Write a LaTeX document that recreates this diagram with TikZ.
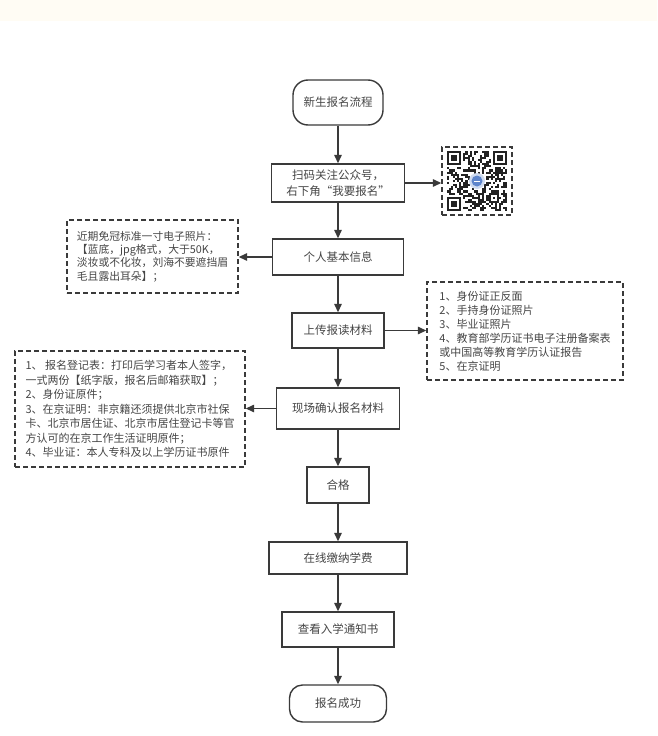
\documentclass[tikz,border=0pt]{standalone}
\usepackage{fontspec}
\setmainfont{Noto Sans CJK SC}
\usetikzlibrary{arrows.meta}
\definecolor{line}{HTML}{3A3A3A}
\definecolor{txt}{HTML}{454545}
\definecolor{cream}{HTML}{FFFCF4}
\definecolor{qrc}{HTML}{222222}
\definecolor{logo}{HTML}{5F86CC}
\tikzset{
  box/.style={draw=line, line width=1.4pt, fill=white, text=txt, inner sep=0pt,
    align=center, font=\fontsize{11.5}{16}\selectfont},
  notebox/.style={draw=line, line width=1.4pt, dash pattern=on 5pt off 3pt,
    text=txt, align=left, inner sep=0pt},
  arr/.style={draw=line, line width=1.4pt, -{Triangle[length=8.5pt,width=7.5pt]}},
}
\begin{document}
\begin{tikzpicture}[x=1pt,y=1pt]
\useasboundingbox (0,0) rectangle (657,-736);
\fill[cream] (0,0) rectangle (657,-21);

% main flow
\node[box, rounded corners=15pt, minimum width=90pt, minimum height=45pt] (start) at (338,-102.5) {新生报名流程};
\node[box, minimum width=133pt, minimum height=38pt] (scan) at (338,-183) {扫码关注公众号，\\右下角“我要报名”};
\node[box, minimum width=131pt, minimum height=36pt] (info) at (338,-257) {个人基本信息};
\node[box, minimum width=92pt, minimum height=35pt] (upload) at (338,-330.5) {上传报读材料};
\node[box, minimum width=123pt, minimum height=41pt] (onsite) at (338,-408.5) {现场确认报名材料};
\node[box, minimum width=62pt, minimum height=36pt] (pass) at (338,-485) {合格};
\node[box, minimum width=138pt, minimum height=32pt] (pay) at (338,-558) {在线缴纳学费};
\node[box, minimum width=112pt, minimum height=35pt] (view) at (338,-629.5) {查看入学通知书};
\node[box, rounded corners=13pt, minimum width=97pt, minimum height=37pt] (success) at (338,-703.5) {报名成功};

% notes
\node[notebox, minimum width=171pt, minimum height=73pt, font=\fontsize{10.8}{13.3}\selectfont] (note1) at (152.5,-256.5)
  {近期免冠标准一寸电子照片：\\【蓝底，jpg格式，大于50K，\\淡妆或不化妆，刘海不要遮挡眉\\毛且露出耳朵】；};
\node[notebox, minimum width=196pt, minimum height=98pt, font=\fontsize{11}{14}\selectfont] (note2) at (525,-331)
  {1、身份证正反面\\2、手持身份证照片\\3、毕业证照片\\4、教育部学历证书电子注册备案表\\或中国高等教育学历认证报告\\5、在京证明};
\node[notebox, minimum width=230pt, minimum height=116pt, font=\fontsize{11}{14.5}\selectfont] (note3) at (130,-409)
  {1、 报名登记表：打印后学习者本人签字，\\一式两份【纸字版，报名后邮箱获取】；\\2、身份证原件；\\3、在京证明：非京籍还须提供北京市社保\\卡、北京市居住证、北京市居住登记卡等官\\方认可的在京工作生活证明原件；\\4、毕业证：本人专科及以上学历证书原件};

% QR code
\node[notebox, minimum width=70pt, minimum height=68pt] (qr) at (477,-181) {};
\def\qm{2.1}
\def\qx{446.5}
\def\qy{-150.5}
\pgfmathsetseed{4242}
\foreach \i in {0,...,28}{
  \foreach \j in {0,...,28}{
    \pgfmathtruncatemacro{\skipit}{((\i<8)&&(\j<8))||((\i>20)&&(\j<8))||((\i<8)&&(\j>20))||((\i>10)&&(\i<18)&&(\j>10)&&(\j<18))}
    \pgfmathrandominteger{\rq}{0}{1}
    \ifnum\skipit=0 \ifnum\rq=1
      \fill[qrc] ({\qx+\i*\qm},{\qy-\j*\qm}) rectangle ++(\qm,-\qm);
    \fi\fi
  }
}
\foreach \fx/\fy in {0/0,22/0,0/22}{
  \fill[qrc] ({\qx+\fx*\qm},{\qy-\fy*\qm}) rectangle ++({7*\qm},{-7*\qm});
  \fill[white] ({\qx+(\fx+1)*\qm},{\qy-(\fy+1)*\qm}) rectangle ++({5*\qm},{-5*\qm});
  \fill[qrc] ({\qx+(\fx+2)*\qm},{\qy-(\fy+2)*\qm}) rectangle ++({3*\qm},{-3*\qm});
}
\fill[qrc] ({\qx+20*\qm},{\qy-20*\qm}) rectangle ++({5*\qm},{-5*\qm});
\fill[white] ({\qx+21*\qm},{\qy-21*\qm}) rectangle ++({3*\qm},{-3*\qm});
\fill[qrc] ({\qx+22*\qm},{\qy-22*\qm}) rectangle ++({\qm},{-\qm});
\fill[logo!30] (qr.center) circle (8pt);
\fill[logo] (qr.center) circle (5.5pt);
\draw[white, line width=0.8pt] ([xshift=-3pt]qr.center) -- ([xshift=3pt]qr.center);

% connectors
\draw[arr] (start) -- (scan);
\draw[arr] (scan) -- (info);
\draw[arr] (info) -- (upload);
\draw[arr] (upload) -- (onsite);
\draw[arr] (onsite) -- (pass);
\draw[arr] (pass) -- (pay);
\draw[arr] (pay) -- (view);
\draw[arr] (view) -- (success);
\draw[arr] (scan.east) -- (scan.east -| qr.west);
\draw[arr] (info.west) -- (info.west -| note1.east);
\draw[arr] (upload.east) -- (upload.east -| note2.west);
\draw[arr] (onsite.west) -- (onsite.west -| note3.east);
\end{tikzpicture}
\end{document}
